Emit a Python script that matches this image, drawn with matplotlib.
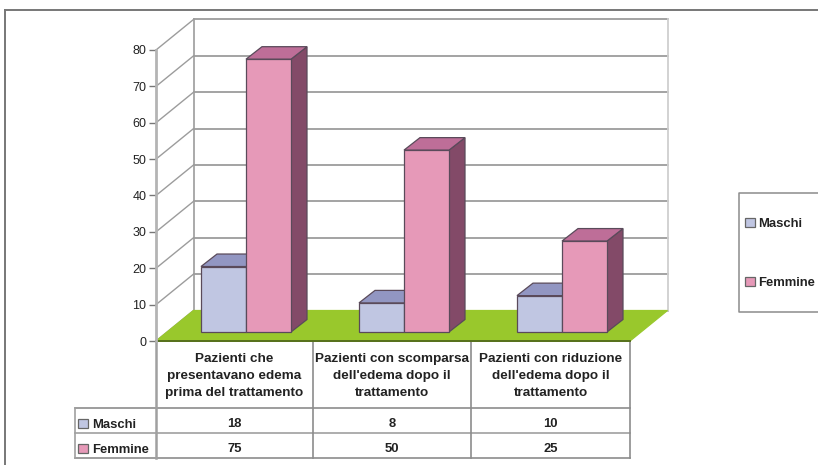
import matplotlib
matplotlib.use("Agg")
import matplotlib.pyplot as plt
from matplotlib.patches import Polygon, Rectangle

plt.rcParams['font.family'] = ['Liberation Sans', 'DejaVu Sans']

categories = [
    "Pazienti che\npresentavano edema\nprima del trattamento",
    "Pazienti con scomparsa\ndell'edema dopo il\ntrattamento",
    "Pazienti con riduzione\ndell'edema dopo il\ntrattamento",
]
maschi = [18, 8, 10]
femmine = [75, 50, 25]
y_ticks = [0, 10, 20, 30, 40, 50, 60, 70, 80]

W, H = 818, 465
GRID = "#9c9c9c"
TEXT = "#222222"
EDGE = "#5a4a5a"
FS = 9.4
MASCHI_COL = ("#c0c6e2", "#9296c2", "#6a6c96")
FEMMINE_COL = ("#e699b8", "#be6e98", "#834a68")

fig = plt.figure(figsize=(W / 100, H / 100), dpi=100, facecolor="white")

# overlay in pixel coordinates for frame, table and legend
pg = fig.add_axes([0, 0, 1, 1])
pg.set_xlim(0, W)
pg.set_ylim(H, 0)
pg.axis("off")

# plot axes: front left edge of the 3D box
left, right, bottom, top = 156, 630, 341, 50
ax = fig.add_axes([left / W, (H - bottom) / H, (right - left) / W, (bottom - top) / H])
ax.set_xlim(0, 3)
ax.set_ylim(0, 80)
ax.patch.set_alpha(0)
ux = 3 / (right - left)   # data units per pixel
uy = 80 / (bottom - top)

depth_x, depth_y = 37.5 * ux, 30.5 * uy
base_x, base_y = 11 * ux, 9 * uy
bar_dx, bar_dy = 16 * ux, 12.5 * uy
bar_w = 45 * ux


def poly(pts, color, edge=None, lw=0.9, z=2):
    ax.add_patch(Polygon(pts, closed=True, facecolor=color, edgecolor=edge or color,
                         linewidth=lw, zorder=z, clip_on=False))


# side wall and back wall gridlines
for t in y_ticks:
    ax.plot([0, depth_x], [t, t + depth_y], color=GRID, lw=1.0, zorder=1, clip_on=False)
    ax.plot([depth_x, 3 + depth_x], [t + depth_y, t + depth_y],
            color=GRID, lw=1.3, zorder=1, clip_on=False)
ax.plot([depth_x, depth_x], [depth_y, 80 + depth_y], color=GRID, lw=1.2, zorder=1, clip_on=False)
ax.plot([3 + depth_x, 3 + depth_x], [depth_y, 80 + depth_y], color="#cfcfcf", lw=1.3, zorder=1, clip_on=False)

# floor
poly([(0, 0), (3, 0), (3 + depth_x, depth_y), (depth_x, depth_y)], "#99c82c", z=1.5)
ax.plot([0, 3], [0, 0], color="#56701c", lw=1.4, zorder=1.6, clip_on=False)


def bar3d(x0, value, colors, z):
    x1 = x0 + bar_w
    y0 = base_y
    y1 = base_y + value
    front, top_c, side = colors
    poly([(x1, y0), (x1 + bar_dx, y0 + bar_dy), (x1 + bar_dx, y1 + bar_dy), (x1, y1)], side, EDGE, z=z)
    poly([(x0, y1), (x1, y1), (x1 + bar_dx, y1 + bar_dy), (x0 + bar_dx, y1 + bar_dy)], top_c, EDGE, z=z)
    poly([(x0, y0), (x1, y0), (x1, y1), (x0, y1)], front, EDGE, z=z + 0.1)


for i in range(len(categories)):
    centre = i + 0.5 + base_x
    bar3d(centre - bar_w, maschi[i], MASCHI_COL, 3 + i)
    bar3d(centre, femmine[i], FEMMINE_COL, 3.5 + i)

# value axis
for side in ["top", "right", "bottom"]:
    ax.spines[side].set_visible(False)
ax.spines["left"].set_color("#b4b4b4")
ax.spines["left"].set_linewidth(2)
ax.set_xticks([])
ax.set_yticks(y_ticks)
ax.tick_params(axis="y", length=5, width=1, color="#777777", labelsize=9, labelcolor=TEXT, pad=2)

# outer chart frame
pg.plot([5, 5], [H + 2, 10], color="#777777", lw=1.4)
pg.plot([5, W + 2], [10, 10], color="#777777", lw=1.4)

# data table under the chart
col_x = [156, 313, 471, 630]
pg.plot([75, 630], [408, 408], color="#8c8c8c", lw=1.2)
pg.plot([75, 630], [433, 433], color="#a0a0a0", lw=1.2)
pg.plot([75, 630], [458, 458], color="#8c8c8c", lw=1.2)
pg.plot([75, 75], [408, 458], color="#a0a0a0", lw=1.2)
pg.plot([156, 156], [341, 458], color="#a0a0a0", lw=1.8)
pg.plot([313, 313], [341, 458], color="#8c8c8c", lw=1.2)
pg.plot([471, 471], [341, 458], color="#8c8c8c", lw=1.2)
pg.plot([630, 630], [341, 458], color="#8c8c8c", lw=1.2)

for i, label in enumerate(categories):
    xc = (col_x[i] + col_x[i + 1]) / 2
    pg.text(xc, 376, label, ha="center", va="center", fontsize=9.7, fontweight="bold",
            color=TEXT, linespacing=1.6)
    pg.text(xc, 423.5, str(maschi[i]), ha="center", va="center", fontsize=FS, fontweight="bold", color=TEXT)
    pg.text(xc, 448.5, str(femmine[i]), ha="center", va="center", fontsize=FS, fontweight="bold", color=TEXT)


def swatch(x, y, color):
    pg.add_patch(Rectangle((x, y - 5), 10, 9, facecolor=color, edgecolor="#666666", lw=0.9))


swatch(78, 424, MASCHI_COL[0])
pg.text(92, 424.5, "Maschi", va="center", fontsize=FS, fontweight="bold", color=TEXT)
swatch(78, 449, FEMMINE_COL[0])
pg.text(92, 449.5, "Femmine", va="center", fontsize=FS, fontweight="bold", color=TEXT)

# legend box runs off the right edge
pg.plot([W + 2, 739, 739, W + 2], [193, 193, 312, 312], color="#8c8c8c", lw=1.1)
swatch(745, 223, MASCHI_COL[0])
pg.text(758, 223.5, "Maschi", va="center", fontsize=FS, fontweight="bold", color=TEXT)
swatch(745, 282, FEMMINE_COL[0])
pg.text(758, 282.5, "Femmine", va="center", fontsize=FS, fontweight="bold", color=TEXT)

fig.savefig("out.png", dpi=100)
